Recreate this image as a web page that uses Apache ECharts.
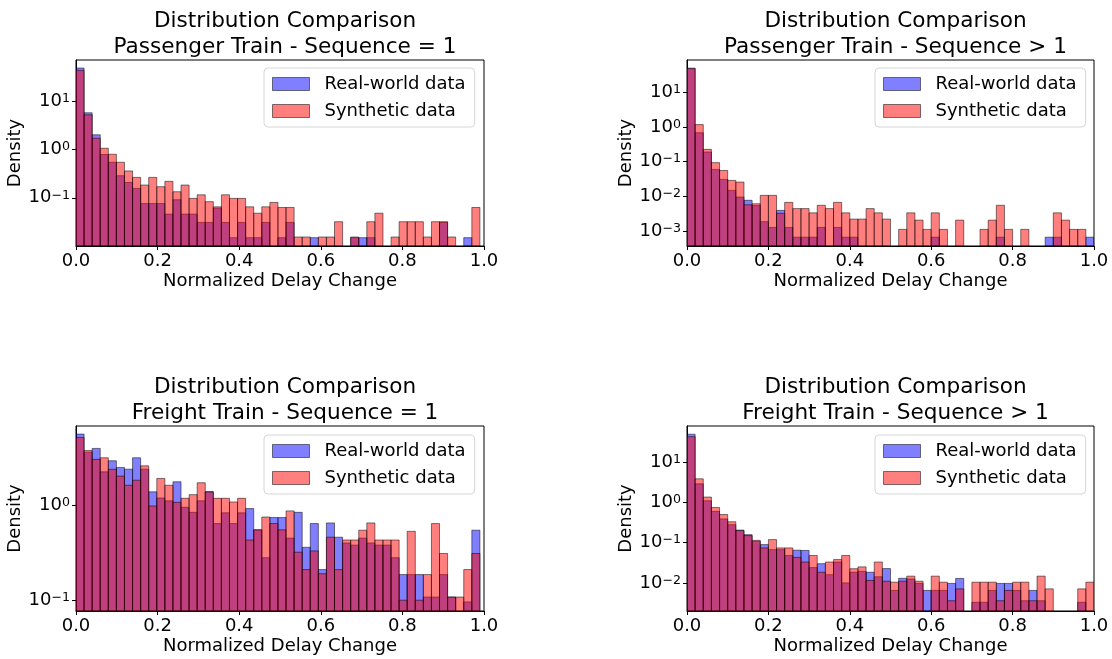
<!DOCTYPE html>
<html><head><meta charset="utf-8">
<script src="https://cdn.jsdelivr.net/npm/echarts@6/dist/echarts.min.js"></script>
<style>html,body{margin:0;padding:0;background:#fff}#c{width:1112px;height:659px}</style>
</head><body><div id="c"></div><script>
// ---------------- data ----------------
const panelTitles = [
  'Distribution Comparison\nPassenger Train - Sequence = 1',
  'Distribution Comparison\nPassenger Train - Sequence > 1',
  'Distribution Comparison\nFreight Train - Sequence = 1',
  'Distribution Comparison\nFreight Train - Sequence > 1'
];
const seriesNames = ['Real-world data', 'Synthetic data'];
const xAxisTitle = 'Normalized Delay Change';
const yAxisTitle = 'Density';
const xTickLabels = ['0.0', '0.2', '0.4', '0.6', '0.8', '1.0'];
// upper end of the 50 histogram bins (data range) per panel
const binRangeMax = [0.99, 1.0, 0.99, 1.0];
// y axis (log) limits per panel
const yLimits = [[0.0101, 69.6], [0.00038, 83], [0.077, 6.8], [0.002, 79.5]];

// Panel 1: Passenger, Sequence = 1
const p1Real = [47.5,5.67,1.99,0.78,0.54,0.285,0.207,0.156,0.076,0.076,
  0.076,0.046,0.091,0.046,0.046,0.031,0.031,0.061,0.031,0.015,
  0.031,0.015,0.015,0.031,0,0.015,0.031,0,0,0.015,
  0,0,0,0,0.015,0.015,0.015,0,0,0,
  0,0,0,0,0,0.031,0,0,0.015,0];
const p1Synth = [42.6,5.15,1.69,1.05,0.79,0.54,0.357,0.263,0.183,0.263,
  0.169,0.218,0.133,0.183,0.097,0.115,0.083,0.065,0.115,0.097,
  0.097,0.065,0.048,0.065,0.080,0.063,0.063,0.0155,0.0155,0,
  0.0155,0.0155,0.032,0,0.0155,0,0.032,0.048,0,0.0155,
  0.032,0.032,0.032,0.0155,0.032,0.032,0.0155,0,0,0.063];

// Panel 2: Passenger, Sequence > 1
const p2Real = [48.5,0.68,0.19,0.060,0.031,0.015,0.0097,0.0078,0.0055,0.0019,
  0.0013,0.004,0.0013,0.00068,0.00068,0.00068,0.0013,0,0.0013,0.00068,
  0.00068,0,0,0,0,0,0,0,0,0,
  0.00068,0,0,0,0,0,0,0,0.00068,0,
  0,0,0,0,0.00068,0.00068,0,0,0,0.00068];
const p2Synth = [47,1.16,0.226,0.094,0.056,0.029,0.026,0.0058,0.0062,0.0108,
  0.0108,0.0033,0.0068,0.0045,0.0045,0.0034,0.0056,0.0045,0.0068,0.0034,
  0.00225,0.00225,0.0045,0.0034,0.00225,0,0.00114,0.0034,0.0021,0.00114,
  0.0034,0.00114,0,0.0021,0,0,0.00114,0.0021,0.0056,0.00114,
  0,0.00114,0,0,0,0.0034,0.0021,0.00114,0.00114,0];

// Panel 3: Freight, Sequence = 1
const p3Real = [5.59,3.6,3.95,2.24,2.93,2.49,2.39,3.15,2.39,1.38,
  1.19,1.11,1.76,0.95,0.84,1.11,1.39,0.64,0.83,0.64,
  0.83,0.92,0.55,0.28,0.74,0.74,0.45,0.84,0.36,0.64,
  0.21,0.65,0.46,0.40,0.38,0.45,0.40,0.38,0.38,0.28,
  0.186,0.186,0.186,0.108,0.108,0.186,0.108,0,0.096,0.545];
const p3Synth = [5.16,3.75,3.03,3.15,2.38,2.02,1.62,1.83,2.59,0.98,
  1.91,1.62,1.07,1.18,1.29,1.72,1.37,1.18,1.18,1.08,
  1.18,0.43,0.55,0.75,0.64,0.55,0.87,0.32,0.21,0.33,
  0.19,0.46,0.21,0.43,0.43,0.545,0.65,0.43,0.43,0.43,
  0.1,0.53,0.1,0.186,0.64,0.31,0.108,0.108,0.21,0.31];

// Panel 4: Freight, Sequence > 1
const p4Real = [49.6,2.9,1.1,0.6,0.39,0.28,0.205,0.158,0.108,0.0895,
  0.067,0.067,0.048,0.065,0.064,0.024,0.030,0.016,0.033,0.010,
  0.0184,0.0194,0.0184,0.0142,0.0227,0.0065,0.013,0.0125,0.0097,0.0065,
  0.0065,0.0065,0.0097,0.0129,0,0.0033,0.0033,0.0065,0.0097,0.0097,
  0.0065,0.0036,0.0065,0.0036,0,0,0,0,0.0033,0];
const p4Synth = [43.2,3.87,1.36,0.75,0.5,0.33,0.2,0.15,0.114,0.074,
  0.119,0.074,0.074,0.043,0.033,0.048,0.0184,0.033,0.038,0.048,
  0.0225,0.025,0.0115,0.033,0.011,0.0104,0.011,0.0147,0.011,0,
  0.0147,0.0104,0.0036,0.0071,0,0.0104,0.0104,0.0104,0.0036,0.0065,
  0.0104,0.0104,0.0036,0.0147,0.0071,0,0,0,0.0071,0.0104];

const panelData = [[p1Real, p1Synth], [p2Real, p2Synth], [p3Real, p3Synth], [p4Real, p4Synth]];

// ---------------- layout / style ----------------
const FONT = 'DejaVu Sans';
const fills = ['rgba(0,0,255,0.5)', 'rgba(255,0,0,0.5)'];
const edge = 'rgba(0,0,0,0.5)';
const grids = [
  {left: 76, top: 60, width: 408, height: 186},
  {left: 687, top: 60, width: 407, height: 186},
  {left: 76, top: 426, width: 408, height: 185},
  {left: 687, top: 426, width: 407, height: 185}
];
const legendPos = [[264, 68], [875, 68], [264, 435], [875, 435]];

function supLabel(v) {
  const e = Math.log10(v);
  const r = Math.round(e);
  if (Math.abs(e - r) > 1e-6) return '';
  const s = r < 0 ? '\u2212' + (-r) : String(r);
  return '{b|10}{s|' + s + '}';
}

function powersIn(lo, hi) {
  const out = [];
  for (let e = Math.ceil(Math.log10(lo) - 1e-9); e <= Math.floor(Math.log10(hi) + 1e-9); e++) out.push(Math.pow(10, e));
  return out;
}

function histSeries(panel, k) {
  const values = panelData[panel][k];
  const w = binRangeMax[panel] / values.length;
  const data = [];
  values.forEach((v, i) => { if (v > 0) data.push([i * w, (i + 1) * w, v]); });
  const fill = fills[k];
  const yMin = yLimits[panel][0];
  return {
    type: 'custom', name: seriesNames[k], xAxisIndex: panel, yAxisIndex: panel,
    data: data, encode: {x: [0, 1], y: 2}, silent: true, animation: false, clip: true,
    z: 2 + k,
    itemStyle: {color: fill},
    renderItem: function (params, api) {
      const x0 = api.value(0), x1 = api.value(1), v = api.value(2);
      const pTop = api.coord([x0, v]);
      const pBot = api.coord([x1, yMin]);
      return {
        type: 'rect',
        shape: {x: pTop[0], y: pTop[1], width: pBot[0] - pTop[0], height: pBot[1] - pTop[1]},
        style: {fill: fill, stroke: edge, lineWidth: 1}
      };
    }
  };
}

const option = {
  backgroundColor: '#fff',
  animation: false,
  textStyle: {fontFamily: FONT, color: '#000'},
  title: grids.map((g, i) => ({
    text: panelTitles[i],
    left: g.left + g.width / 2,
    top: g.top - 56,
    textAlign: 'center',
    textStyle: {fontFamily: FONT, fontSize: 21.6, fontWeight: 'normal', color: '#000', lineHeight: 25.5}
  })),
  grid: grids.map(g => Object.assign({show: true, borderColor: '#000', borderWidth: 1, backgroundColor: 'transparent', containLabel: false, outerBoundsMode: 'none'}, g)),
  legend: grids.map((g, i) => ({
    orient: 'vertical', left: legendPos[i][0], top: legendPos[i][1],
    data: seriesNames.map((n, k) => ({name: n, icon: 'rect', itemStyle: {color: fills[k], borderColor: edge, borderWidth: 1}})),
    itemWidth: 37, itemHeight: 13, itemGap: 7, selectedMode: false,
    textStyle: {fontFamily: FONT, fontSize: 18, color: '#000', padding: [0, 0, 0, 10], lineHeight: 20},
    backgroundColor: 'rgba(255,255,255,0.8)', borderColor: '#d6d6d6', borderWidth: 1, borderRadius: 4,
    padding: [6, 9, 6, 8]
  })),
  xAxis: grids.map((g, i) => ({
    type: 'value', gridIndex: i, min: 0, max: 1, interval: 0.2,
    name: xAxisTitle, nameLocation: 'middle', nameGap: 26,
    nameTextStyle: {fontFamily: FONT, fontSize: 18, color: '#000'},
    axisLine: {show: true, lineStyle: {color: '#000', width: 1}},
    axisTick: {show: true, length: 4, lineStyle: {color: '#000'}},
    splitLine: {show: false},
    axisLabel: {fontFamily: FONT, fontSize: 18, color: '#000', margin: 6,
      formatter: v => xTickLabels[Math.round(v / 0.2)]}
  })),
  yAxis: grids.map((g, i) => ({
    type: 'log', logBase: 10, gridIndex: i, min: yLimits[i][0], max: yLimits[i][1],
    name: yAxisTitle, nameLocation: 'middle', nameGap: 51,
    nameTextStyle: {fontFamily: FONT, fontSize: 18, color: '#000'},
    axisLine: {show: true, lineStyle: {color: '#000', width: 1}},
    axisTick: {show: true, length: 4, lineStyle: {color: '#000'}, customValues: powersIn(yLimits[i][0], yLimits[i][1])},
    splitLine: {show: false},
    axisLabel: {
      margin: 6, color: '#000', customValues: powersIn(yLimits[i][0], yLimits[i][1]),
      formatter: supLabel,
      rich: {
        b: {fontFamily: FONT, fontSize: 18, color: '#000'},
        s: {fontFamily: FONT, fontSize: 12.6, color: '#000', verticalAlign: 'top'}
      }
    }
  })),
  series: [0, 1, 2, 3].flatMap(p => [histSeries(p, 0), histSeries(p, 1)])
};

const chart = echarts.init(document.getElementById('c'), null, {renderer: 'canvas'});
chart.setOption(option);
</script></body></html>
